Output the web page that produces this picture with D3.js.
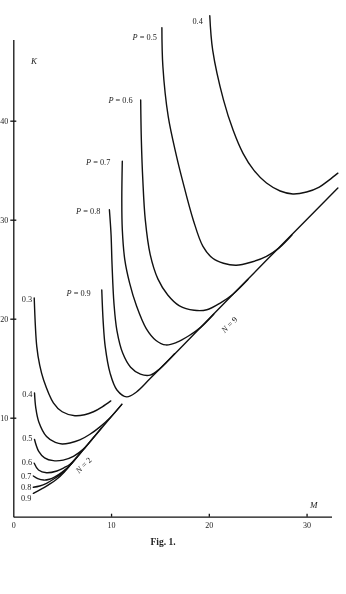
<html>
<head>
<script src="https://d3js.org/d3.v7.min.js"></script>
<style>
  body { margin: 0; background: #fff; }
  svg { will-change: transform; }
  text { font-family: "Liberation Serif", "DejaVu Serif", serif; fill: #222; }
  .curve { fill: none; stroke: #111; stroke-width: 1.4; stroke-linejoin: round; stroke-linecap: round; }
  .axis path, .axis line { stroke: #111; stroke-width: 1.3; }
  .axis text { fill: #222; }
</style>
</head>
<body>
<svg width="346" height="594"></svg>
<script>
// tick values
const xTicks = [0, 10, 20, 30];
const yTicks = [10, 20, 30, 40];

// N = 9 family, [M, K]
const n9p90 = [[9.05,22.9],[9.2,19.6],[9.4,17.2],[9.9,14.5],[10.6,12.8],[11.6,12.1],[12.6,12.6],[14.0,13.95],[19.0,18.95],[22.5,22.5],[28.0,28.0],[33.2,33.2]];
const n9p80 = [[9.83,31.0],[10.0,28.5],[10.1,25.5],[10.3,21.5],[10.6,18.8],[11.2,16.5],[12.0,15.1],[13.0,14.4],[14.0,14.3],[15.0,14.95],[16.5,16.45]];
const n9p70 = [[11.15,35.9],[11.1,32.0],[11.15,29.0],[11.4,26.0],[11.9,23.6],[12.6,21.3],[13.6,19.0],[14.6,17.8],[15.6,17.35],[16.7,17.6],[18.0,18.3],[19.2,19.15],[20.5,20.45]];
const n9p60 = [[13.03,42.1],[13.1,38.0],[13.25,34.0],[13.5,30.0],[14.0,26.5],[14.8,24.0],[15.8,22.4],[17.0,21.3],[18.5,20.85],[19.8,20.9],[21.2,21.6],[22.5,22.5],[24.0,23.95]];
const n9p50 = [[15.2,49.4],[15.3,45.5],[15.85,40.4],[16.7,36.4],[17.3,34.0],[18.4,30.0],[19.4,27.3],[20.4,26.1],[21.5,25.6],[22.8,25.4],[24.3,25.7],[25.9,26.3],[27.2,27.15],[28.5,28.45]];
const n9p40 = [[20.1,50.6],[20.4,47.1],[21.5,42.1],[22.5,39.0],[23.5,36.7],[24.6,35.0],[25.9,33.7],[27.3,32.9],[28.6,32.6],[30.0,32.8],[31.3,33.3],[32.3,34.0],[33.2,34.7]];
const n9Curves = [n9p90, n9p80, n9p70, n9p60, n9p50, n9p40];
const n9Labels = ["P = 0.9", "P = 0.8", "P = 0.7", "P = 0.6", "P = 0.5", "0.4"];

// N = 2 family
const n2p30 = [[2.14,22.1],[2.4,17.2],[2.7,15.3],[3.1,13.8],[4.1,11.5],[5.0,10.6],[6.3,10.2],[7.3,10.3],[8.2,10.6],[9.1,11.1],[9.97,11.7]];
const n2p40 = [[2.17,12.5],[2.3,11.0],[2.6,9.6],[3.4,8.1],[4.3,7.5],[5.0,7.35],[5.8,7.45],[6.8,7.75],[7.8,8.3],[8.9,9.1],[9.9,10.0],[11.1,11.35]];
const n2p50 = [[2.17,7.8],[2.6,6.6],[3.2,5.95],[4.1,5.66],[5.1,5.72],[6.15,6.1],[7.2,6.85],[8.2,8.0],[9.0,8.95]];
const n2p60 = [[2.14,5.4],[2.58,4.72],[3.4,4.44],[4.46,4.62],[5.2,4.95],[5.8,5.3],[6.6,6.1],[7.3,6.95]];
const n2p70 = [[2.05,4.11],[2.5,3.85],[3.1,3.7],[3.7,3.78],[4.3,4.05],[5.0,4.5],[5.8,5.2],[6.5,6.0]];
const n2p80 = [[2.05,2.97],[2.7,3.1],[3.4,3.37],[4.1,3.78],[4.8,4.25],[5.5,4.85],[6.2,5.66]];
const n2p90 = [[2.05,2.36],[2.8,2.75],[3.6,3.22],[4.4,3.75],[5.2,4.5],[5.8,5.2],[7.5,7.17],[9.3,9.26],[11.1,11.35]];
const n2Curves = [n2p30, n2p40, n2p50, n2p60, n2p70, n2p80, n2p90];
const n2Labels = ["0.3", "0.4", "0.5", "0.6", "0.7", "0.8", "0.9"];

// where the N labels sit, [M, K]
const nLabels = [{text: "N = 2", at: [7.4, 5.0]}, {text: "N = 9", at: [22.3, 19.2]}];

const svg = d3.select("svg");
const x = d3.scaleLinear().domain([0, 32.55]).range([13.3, 331.5]);
const y = d3.scaleLinear().domain([0, 48.2]).range([516.7, 39.5]);

const line = d3.line()
  .x(d => x(d[0]))
  .y(d => y(d[1]))
  .curve(d3.curveCatmullRom.alpha(0.5));

// axes
const gx = svg.append("g").attr("class", "axis")
  .attr("transform", "translate(0," + y(0) + ")")
  .call(d3.axisBottom(x).tickValues(xTicks).tickSizeInner(-3).tickSizeOuter(0).tickPadding(6).tickFormat(d3.format("d")));
gx.selectAll("text").style("font-size", "8px");
gx.selectAll(".tick").filter(d => d === 0).select("line").remove();

const gy = svg.append("g").attr("class", "axis")
  .attr("transform", "translate(" + x(0) + ",0)")
  .call(d3.axisLeft(y).tickValues(yTicks).tickSizeInner(3).tickSizeOuter(0).tickPadding(2).tickFormat(d3.format("d")));
gy.selectAll(".tick line").attr("x1", 3).attr("x2", -3);
gy.selectAll("text").style("font-size", "8px");

svg.append("text").attr("x", 31).attr("y", 64).style("font-style", "italic").style("font-size", "9px").text("K");
svg.append("text").attr("x", 310).attr("y", 508).style("font-style", "italic").style("font-size", "9px").text("M");

// curves
svg.append("g").selectAll("path").data(n9Curves.concat(n2Curves)).join("path")
  .attr("class", "curve")
  .attr("d", line);

// N = 9 family labels: left of the top of each curve
const n9dx = [-11, -9, -12, -8, -5, -7];
const n9dy = [6, 4, 4, 3, 12, 8];
svg.append("g").selectAll("text").data(n9Curves).join("text")
  .attr("x", (d, i) => x(d[0][0]) + n9dx[i])
  .attr("y", (d, i) => y(d[0][1]) + n9dy[i])
  .attr("text-anchor", "end")
  .style("font-size", "8.3px")
  .each(function(d, i) {
    const t = d3.select(this);
    const s = n9Labels[i];
    if (s.startsWith("P")) {
      t.append("tspan").style("font-style", "italic").text("P");
      t.append("tspan").text(s.slice(1));
    } else {
      t.text(s);
    }
  });

// N = 2 family labels
const n2dy = [4, 4, 2, 2, 3, 3, 8];
svg.append("g").selectAll("text").data(n2Curves).join("text")
  .attr("x", d => x(d[0][0]) - 2)
  .attr("y", (d, i) => y(d[0][1]) + n2dy[i])
  .attr("text-anchor", "end")
  .style("font-size", "8.3px")
  .text((d, i) => n2Labels[i]);

// N labels, rotated along the boundary lines
svg.append("g").selectAll("text").data(nLabels).join("text")
  .attr("transform", d => "translate(" + x(d.at[0]) + "," + y(d.at[1]) + ") rotate(-45)")
  .attr("text-anchor", "middle")
  .style("font-size", "8.3px")
  .each(function(d) {
    const t = d3.select(this);
    t.append("tspan").style("font-style", "italic").text("N");
    t.append("tspan").text(d.text.slice(1));
  });

svg.append("text")
  .attr("x", 163).attr("y", 545)
  .attr("text-anchor", "middle")
  .style("font-weight", "bold")
  .style("font-size", "9.5px")
  .text("Fig. 1.");
</script>
</body>
</html>
